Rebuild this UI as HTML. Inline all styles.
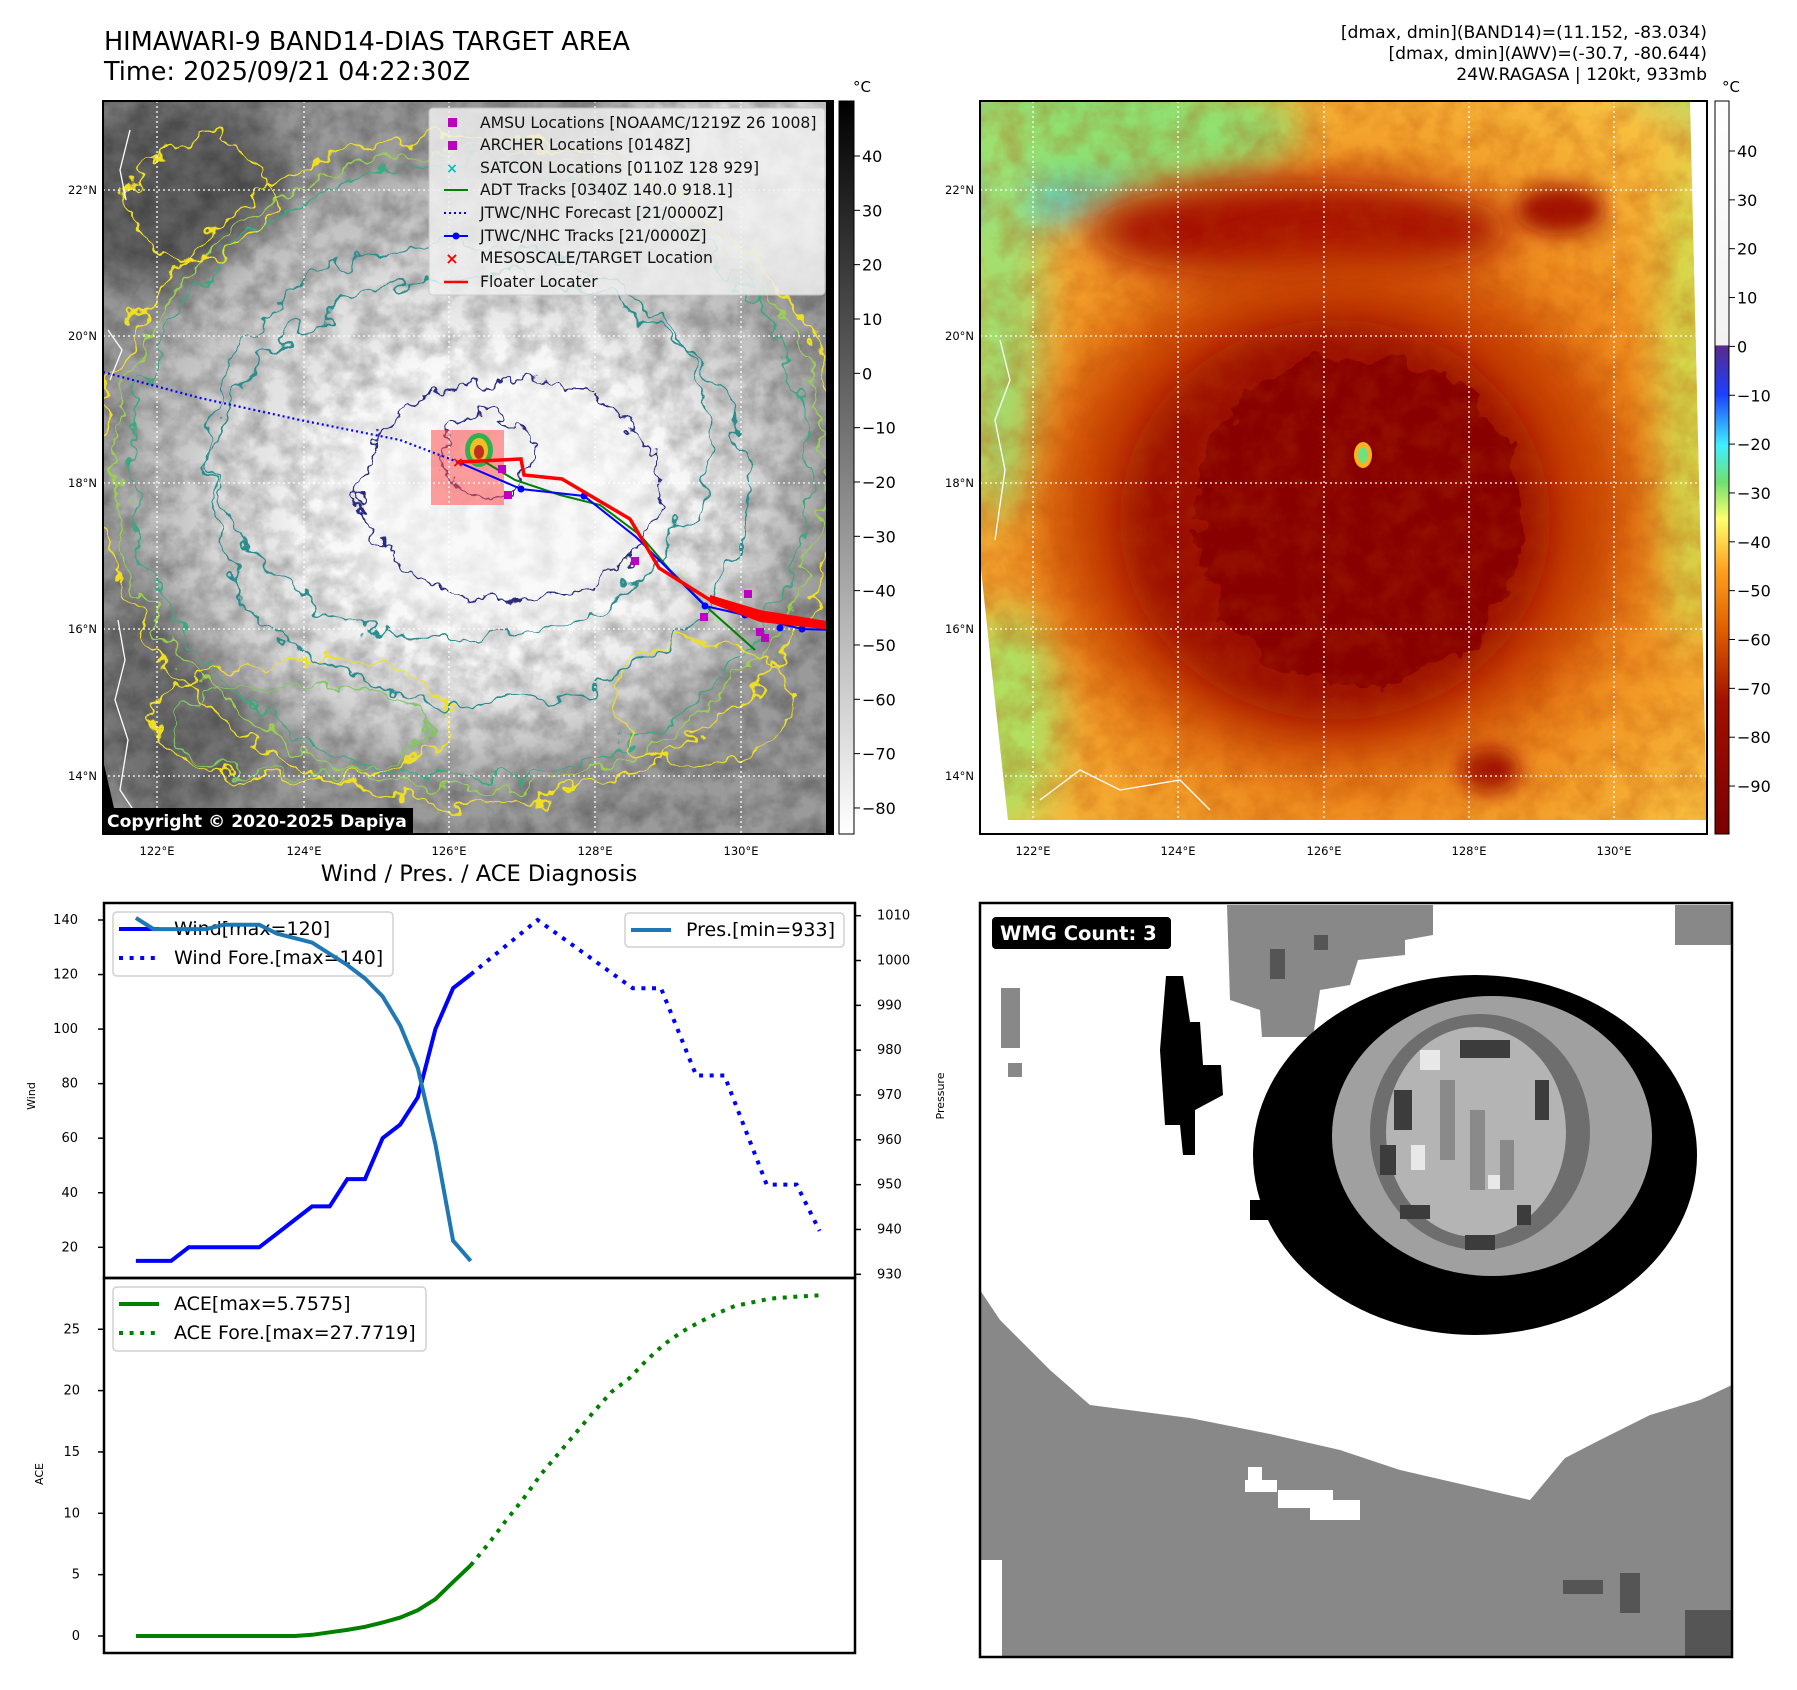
<!DOCTYPE html>
<html><head><meta charset="utf-8"><title>HIMAWARI-9 BAND14 DIAS</title>
<style>
html,body{margin:0;padding:0;background:#fff;}
svg{display:block;font-family:"DejaVu Sans","Liberation Sans",sans-serif;}
</style></head>
<body>
<svg id="root" width="1797" height="1690" xmlns="http://www.w3.org/2000/svg">
<defs>
  <filter id="wob" x="-40%" y="-40%" width="180%" height="180%">
    <feTurbulence type="fractalNoise" baseFrequency="0.035" numOctaves="3" seed="3" result="t"/>
    <feDisplacementMap in="SourceGraphic" in2="t" scale="40" xChannelSelector="R" yChannelSelector="G"/>
  </filter>
  <filter id="wob2" x="-20%" y="-20%" width="140%" height="140%">
    <feTurbulence type="fractalNoise" baseFrequency="0.05" numOctaves="3" seed="7" result="t"/>
    <feDisplacementMap in="SourceGraphic" in2="t" scale="30" xChannelSelector="R" yChannelSelector="G"/>
  </filter>
  <filter id="blur20" x="-50%" y="-50%" width="200%" height="200%"><feGaussianBlur stdDeviation="20"/></filter>
  <filter id="blur30" x="-50%" y="-50%" width="200%" height="200%"><feGaussianBlur stdDeviation="30"/></filter>
  <filter id="blur10" x="-50%" y="-50%" width="200%" height="200%"><feGaussianBlur stdDeviation="10"/></filter>
  <filter id="noiseG" x="0" y="0" width="100%" height="100%">
    <feTurbulence type="fractalNoise" baseFrequency="0.045" numOctaves="4" seed="11"/>
    <feColorMatrix type="matrix" values="0 0 0 0 0  0 0 0 0 0  0 0 0 0 0  1.4 0 0 0 -0.45"/>
  </filter>
  <filter id="noiseR" x="0" y="0" width="100%" height="100%">
    <feTurbulence type="fractalNoise" baseFrequency="0.04" numOctaves="4" seed="5"/>
    <feColorMatrix type="matrix" values="0 0 0 0 0.45  0 0 0 0 0.05  0 0 0 0 0  1.2 0 0 0 -0.4"/>
  </filter>
  <linearGradient id="cbGray" x1="0" y1="0" x2="0" y2="1">
    <stop offset="0" stop-color="#000"/><stop offset="1" stop-color="#fff"/>
  </linearGradient>
  <linearGradient id="cbColor" x1="0" y1="0" x2="0" y2="1">
    <stop offset="0" stop-color="#ffffff"/>
    <stop offset="0.333" stop-color="#f2f2f2"/>
    <stop offset="0.334" stop-color="#5a2a8a"/>
    <stop offset="0.40" stop-color="#1a40ff"/>
    <stop offset="0.47" stop-color="#40f0ff"/>
    <stop offset="0.52" stop-color="#70e070"/>
    <stop offset="0.57" stop-color="#ffff70"/>
    <stop offset="0.64" stop-color="#ffa020"/>
    <stop offset="0.72" stop-color="#e06000"/>
    <stop offset="0.82" stop-color="#a01000"/>
    <stop offset="1" stop-color="#7a0000"/>
  </linearGradient>
  <radialGradient id="rmapBase" cx="0.52" cy="0.55" r="0.75">
    <stop offset="0" stop-color="#e07010"/>
    <stop offset="0.55" stop-color="#f09020"/>
    <stop offset="0.85" stop-color="#f8c040"/>
    <stop offset="1" stop-color="#b0e070"/>
  </radialGradient>
  <clipPath id="lclip"><polygon points="103,101 826,101 826,834 120,834 103,760"/></clipPath>
  <clipPath id="rclip"><polygon points="980,101 1690,101 1707,820 1008,820 995,700 980,560"/></clipPath>
  <clipPath id="wclip"><rect x="980" y="903" width="752" height="754"/></clipPath>
</defs>

<!-- Titles -->
<text x="104" y="50" font-size="25.5">HIMAWARI-9 BAND14-DIAS TARGET AREA</text>
<text x="104" y="80" font-size="25.5">Time: 2025/09/21 04:22:30Z</text>
<text x="1707" y="38" font-size="17.2" text-anchor="end">[dmax, dmin](BAND14)=(11.152, -83.034)</text>
<text x="1707" y="59" font-size="17.2" text-anchor="end">[dmax, dmin](AWV)=(-30.7, -80.644)</text>
<text x="1707" y="80" font-size="17.2" text-anchor="end">24W.RAGASA | 120kt, 933mb</text>

<!-- LEFT MAP -->
<g>
  <rect x="103" y="101" width="730" height="733" fill="#000"/>
  <g clip-path="url(#lclip)">
    <rect x="103" y="101" width="730" height="733" fill="#9a9a9a"/>
    <ellipse cx="170" cy="190" rx="120" ry="100" fill="#606060" filter="url(#blur20)"/>
    <ellipse cx="180" cy="700" rx="90" ry="130" fill="#707070" filter="url(#blur20)"/>
    <ellipse cx="740" cy="170" rx="140" ry="100" fill="#dcdcdc" filter="url(#blur20)"/>
    <ellipse cx="470" cy="470" rx="340" ry="300" fill="#c4c4c4" filter="url(#blur20)"/>
    <ellipse cx="480" cy="490" rx="280" ry="240" fill="#e2e2e2" filter="url(#blur20)"/>
    <ellipse cx="495" cy="505" rx="215" ry="180" fill="#f8f8f8" filter="url(#blur20)"/>
    <rect x="103" y="101" width="730" height="733" fill="#000" filter="url(#noiseG)" opacity="0.35"/>
    <ellipse cx="500" cy="500" rx="160" ry="130" fill="#fafafa" opacity="0.7" filter="url(#blur20)"/>
    <g fill="none" filter="url(#wob)">
      <ellipse cx="470" cy="470" rx="370" ry="335" stroke="#f0e020" stroke-width="2"/>
      <ellipse cx="470" cy="470" rx="355" ry="320" stroke="#9ad050" stroke-width="1.8"/>
      <ellipse cx="470" cy="470" rx="340" ry="308" stroke="#3aa880" stroke-width="1.8"/>
      <ellipse cx="200" cy="200" rx="70" ry="60" stroke="#f0e020" stroke-width="1.8"/>
      <ellipse cx="700" cy="700" rx="90" ry="60" stroke="#f0e020" stroke-width="1.8"/>
      <ellipse cx="300" cy="720" rx="150" ry="60" stroke="#f0e020" stroke-width="1.8"/>
      <ellipse cx="300" cy="730" rx="130" ry="45" stroke="#80c860" stroke-width="1.8"/>
      <ellipse cx="480" cy="490" rx="270" ry="215" stroke="#2a8c8c" stroke-width="2"/>
      <ellipse cx="460" cy="440" rx="250" ry="200" stroke="#2a8c8c" stroke-width="1.8"/>
    </g>
    <g fill="none" filter="url(#wob2)">
      <ellipse cx="510" cy="490" rx="150" ry="110" stroke="#2a2a80" stroke-width="1.8"/>
      <ellipse cx="485" cy="455" rx="45" ry="40" stroke="#2a2a80" stroke-width="1.8"/>
    </g>
    <rect x="431" y="430" width="73" height="75" fill="#ff5050" opacity="0.55"/>
    <ellipse cx="479" cy="450" rx="14" ry="17" fill="#30b050"/>
    <ellipse cx="479" cy="450" rx="9" ry="12" fill="#f0c020"/>
    <ellipse cx="479" cy="452" rx="5" ry="7" fill="#c03020"/>
    <g stroke="#fff" stroke-width="1.3" stroke-dasharray="2 3">
      <line x1="157" y1="101" x2="157" y2="834"/><line x1="304" y1="101" x2="304" y2="834"/>
      <line x1="449" y1="101" x2="449" y2="834"/><line x1="595" y1="101" x2="595" y2="834"/>
      <line x1="741" y1="101" x2="741" y2="834"/>
      <line x1="103" y1="190" x2="833" y2="190"/><line x1="103" y1="336" x2="833" y2="336"/>
      <line x1="103" y1="483" x2="833" y2="483"/><line x1="103" y1="629" x2="833" y2="629"/>
      <line x1="103" y1="776" x2="833" y2="776"/>
    </g>
    <path d="M118,620 L125,660 L115,700 L128,740 L120,790 L140,820 M130,130 L120,170 L126,200 M108,330 L122,350 L110,380" stroke="#fff" stroke-width="1.3" fill="none"/>
    <polyline points="103,372 200,398 300,420 400,440 458,462" fill="none" stroke="#0000ff" stroke-width="2.2" stroke-dasharray="2 3"/>
    <polyline points="485,462 515,480 560,495 600,505 640,535 670,570 710,610 755,650" fill="none" stroke="#008000" stroke-width="2"/>
    <polyline points="458,462 521,489 584,496 636,537 705,606 745,615 802,629 833,630" fill="none" stroke="#0000ff" stroke-width="2"/>
    <g fill="#0000ff"><circle cx="521" cy="489" r="3.5"/><circle cx="584" cy="496" r="3.5"/><circle cx="705" cy="606" r="3.5"/><circle cx="745" cy="615" r="3.5"/><circle cx="780" cy="628" r="3.5"/><circle cx="802" cy="629" r="3.5"/></g>
    <polyline points="458,462 521,459 524,475 562,479 630,519 659,568 710,600 760,615 833,626" fill="none" stroke="#ff0000" stroke-width="3.5"/>
    <polygon points="710,595 760,610 833,622 833,630 760,622 710,603" fill="#ff0000"/>
    <g fill="#c000c0">
      <rect x="498" y="465" width="8" height="8"/><rect x="504" y="491" width="8" height="8"/>
      <rect x="631" y="557" width="8" height="8"/><rect x="700" y="613" width="8" height="8"/>
      <rect x="744" y="590" width="8" height="8"/><rect x="756" y="628" width="8" height="8"/>
      <rect x="761" y="634" width="8" height="8"/>
    </g>
    <text x="458" y="467" font-size="14" fill="#ff0000" text-anchor="middle" font-weight="bold">×</text>
  </g>
  <g>
    <rect x="429" y="108" width="396" height="187" rx="4" fill="#f2f2f2" opacity="0.82" stroke="#ccc"/>
    <g font-size="15.6" fill="#111">
      <rect x="448" y="118" width="9" height="9" fill="#c000c0"/><text x="480" y="128">AMSU Locations [NOAAMC/1219Z 26 1008]</text>
      <rect x="448" y="141" width="9" height="9" fill="#c000c0"/><text x="480" y="150">ARCHER Locations [0148Z]</text>
      <text x="452" y="173" fill="#00c0c0" text-anchor="middle" font-size="14" font-weight="bold">×</text><text x="480" y="173">SATCON Locations [0110Z 128 929]</text>
      <line x1="444" y1="190" x2="468" y2="190" stroke="#008000" stroke-width="2"/><text x="480" y="195">ADT Tracks [0340Z 140.0 918.1]</text>
      <line x1="444" y1="213" x2="468" y2="213" stroke="#0000ff" stroke-width="2" stroke-dasharray="2 3"/><text x="480" y="218">JTWC/NHC Forecast [21/0000Z]</text>
      <line x1="444" y1="236" x2="468" y2="236" stroke="#0000ff" stroke-width="2"/><circle cx="456" cy="236" r="3.5" fill="#0000ff"/><text x="480" y="241">JTWC/NHC Tracks [21/0000Z]</text>
      <text x="452" y="264" fill="#ff0000" text-anchor="middle" font-size="16" font-weight="bold">×</text><text x="480" y="263">MESOSCALE/TARGET Location</text>
      <line x1="444" y1="282" x2="468" y2="282" stroke="#ff0000" stroke-width="2.5"/><text x="480" y="287">Floater Locater</text>
    </g>
  </g>
  <rect x="103" y="808" width="310" height="26" fill="#000"/>
  <text x="107" y="827" font-size="17.2" font-weight="bold" fill="#fff">Copyright © 2020-2025 Dapiya</text>
  <rect x="103" y="101" width="730" height="733" fill="none" stroke="#000" stroke-width="2"/>
</g>
<g font-size="11.5" text-anchor="end">
  <text x="97" y="194">22°N</text><text x="97" y="340">20°N</text><text x="97" y="487">18°N</text><text x="97" y="633">16°N</text><text x="97" y="780">14°N</text>
</g>
<g font-size="11.5" text-anchor="middle">
  <text x="157" y="855">122°E</text><text x="304" y="855">124°E</text><text x="449" y="855">126°E</text><text x="595" y="855">128°E</text><text x="741" y="855">130°E</text>
</g>
<g>
  <rect x="839" y="101" width="15" height="733" fill="url(#cbGray)" stroke="#000" stroke-width="1"/>
  <text x="853" y="92" font-size="15">°C</text>
  <g id="lcbTicks" font-size="16"></g>
</g>

<!-- RIGHT MAP -->
<g>
  <g clip-path="url(#rclip)">
    <rect x="980" y="101" width="730" height="733" fill="url(#rmapBase)"/>
    <ellipse cx="990" cy="110" rx="170" ry="120" fill="#40c8f0" filter="url(#blur20)"/>
    <ellipse cx="1100" cy="130" rx="200" ry="60" fill="#90e070" filter="url(#blur20)"/>
    <ellipse cx="1000" cy="300" rx="40" ry="220" fill="#a0e070" filter="url(#blur20)"/>
    <ellipse cx="1010" cy="720" rx="50" ry="110" fill="#b0e060" filter="url(#blur20)"/>
    <ellipse cx="1690" cy="400" rx="30" ry="250" fill="#d0e050" filter="url(#blur20)"/>
    <ellipse cx="1300" cy="230" rx="210" ry="50" fill="#a51000" filter="url(#blur20)"/>
    <ellipse cx="1340" cy="510" rx="290" ry="255" fill="#c84000" filter="url(#blur30)"/>
    <ellipse cx="1335" cy="520" rx="215" ry="200" fill="#9a0e00" filter="url(#blur20)"/>
    <g filter="url(#wob)">
      <ellipse cx="1360" cy="520" rx="165" ry="165" fill="#880000"/>
    </g>
    <ellipse cx="1490" cy="770" rx="30" ry="22" fill="#a01000" filter="url(#blur10)"/>
    <ellipse cx="1560" cy="210" rx="45" ry="25" fill="#a01000" filter="url(#blur10)"/>
    <rect x="980" y="101" width="730" height="733" fill="#000" filter="url(#noiseR)" opacity="0.45"/>
    <ellipse cx="1363" cy="455" rx="9" ry="13" fill="#ffb020"/>
    <ellipse cx="1363" cy="455" rx="5" ry="8" fill="#70e080"/>
    <path d="M1000,340 L1010,380 L995,420 L1005,470 L995,540 M1040,800 L1080,770 L1120,790 L1180,780 L1210,810" stroke="#fff" stroke-width="1.3" fill="none"/>
    <g stroke="#fff" stroke-width="1.3" stroke-dasharray="2 3">
      <line x1="1033" y1="101" x2="1033" y2="834"/><line x1="1178" y1="101" x2="1178" y2="834"/>
      <line x1="1324" y1="101" x2="1324" y2="834"/><line x1="1469" y1="101" x2="1469" y2="834"/>
      <line x1="1614" y1="101" x2="1614" y2="834"/>
      <line x1="980" y1="190" x2="1710" y2="190"/><line x1="980" y1="336" x2="1710" y2="336"/>
      <line x1="980" y1="483" x2="1710" y2="483"/><line x1="980" y1="629" x2="1710" y2="629"/>
      <line x1="980" y1="776" x2="1710" y2="776"/>
    </g>
  </g>
  <rect x="980" y="101" width="727" height="733" fill="none" stroke="#000" stroke-width="2"/>
</g>
<g font-size="11.5" text-anchor="end">
  <text x="974" y="194">22°N</text><text x="974" y="340">20°N</text><text x="974" y="487">18°N</text><text x="974" y="633">16°N</text><text x="974" y="780">14°N</text>
</g>
<g font-size="11.5" text-anchor="middle">
  <text x="1033" y="855">122°E</text><text x="1178" y="855">124°E</text><text x="1324" y="855">126°E</text><text x="1469" y="855">128°E</text><text x="1614" y="855">130°E</text>
</g>
<g>
  <rect x="1715" y="101" width="14" height="733" fill="url(#cbColor)" stroke="#000" stroke-width="1"/>
  <text x="1722" y="92" font-size="15">°C</text>
  <g id="rcbTicks" font-size="16"></g>
</g>

<!-- DIAGNOSIS CHART -->
<text x="479" y="881" font-size="22.5" text-anchor="middle">Wind / Pres. / ACE Diagnosis</text>
<g id="chart"></g>

<!-- WMG PANEL -->
<g clip-path="url(#wclip)">
  <rect x="980" y="903" width="752" height="754" fill="#fff"/>
  <path d="M980,1290 L1000,1320 L1020,1340 L1050,1370 L1090,1405 L1190,1418 L1270,1434 L1340,1450 L1400,1470 L1465,1485 L1530,1500 L1565,1458 L1600,1440 L1650,1415 L1700,1400 L1732,1385 L1732,1657 L980,1657 Z" fill="#888"/>
  <rect x="1245" y="1480" width="32" height="12" fill="#fff"/><rect x="1278" y="1490" width="55" height="18" fill="#fff"/>
  <rect x="1310" y="1500" width="50" height="20" fill="#fff"/><rect x="1248" y="1467" width="14" height="14" fill="#fff"/>
  <rect x="980" y="1560" width="22" height="97" fill="#fff"/>
  <rect x="1563" y="1580" width="40" height="14" fill="#555"/><rect x="1685" y="1610" width="47" height="47" fill="#555"/>
  <rect x="1620" y="1573" width="20" height="40" fill="#555"/>
  <path d="M1227,905 L1433,905 L1433,935 L1405,940 L1405,955 L1358,960 L1350,985 L1320,990 L1313,1037 L1262,1037 L1260,1010 L1230,1000 Z" fill="#888"/>
  <rect x="1270" y="949" width="15" height="30" fill="#555"/><rect x="1314" y="935" width="14" height="15" fill="#555"/>
  <rect x="1675" y="905" width="57" height="40" fill="#888"/>
  <rect x="1001" y="988" width="19" height="60" fill="#888"/><rect x="1008" y="1063" width="14" height="14" fill="#888"/>
  <path d="M1166,976 L1183,976 L1190,1022 L1200,1022 L1203,1065 L1221,1065 L1223,1095 L1195,1110 L1195,1155 L1183,1155 L1180,1125 L1165,1125 L1160,1050 Z" fill="#000"/>
  <ellipse cx="1475" cy="1155" rx="222" ry="180" fill="#000"/>
  <rect x="1250" y="1200" width="60" height="20" fill="#000"/>
  <ellipse cx="1492" cy="1136" rx="160" ry="140" fill="#a0a0a0"/>
  <ellipse cx="1480" cy="1132" rx="110" ry="118" fill="#6e6e6e"/>
  <ellipse cx="1476" cy="1132" rx="90" ry="105" fill="#b4b4b4"/>
  <g fill="#3c3c3c"><rect x="1394" y="1090" width="18" height="40"/><rect x="1380" y="1145" width="16" height="30"/><rect x="1460" y="1040" width="50" height="18"/><rect x="1535" y="1080" width="14" height="40"/><rect x="1400" y="1205" width="30" height="14"/><rect x="1465" y="1235" width="30" height="15"/><rect x="1517" y="1205" width="14" height="20"/></g>
  <g fill="#e8e8e8"><rect x="1411" y="1145" width="14" height="25"/><rect x="1488" y="1175" width="15" height="14"/><rect x="1420" y="1050" width="20" height="20"/></g>
  <g fill="#8a8a8a"><rect x="1440" y="1080" width="15" height="80"/><rect x="1470" y="1110" width="15" height="80"/><rect x="1500" y="1140" width="14" height="50"/></g>
  <rect x="992" y="917" width="179" height="32" rx="4" fill="#000"/>
  <text x="1000" y="940" font-size="19.5" font-weight="bold" fill="#fff">WMG Count: 3</text>
</g>
<rect x="980" y="903" width="752" height="754" fill="none" stroke="#000" stroke-width="2.5"/>

<script>
// ---- chart data ----
const windObs = [15,15,15,20,20,20,20,20,25,30,35,35,45,45,60,65,75,100,115,120];
const windFcIdx = [19,22.8,28.2,29.8,31.8,33.4,35.8,37.5,38.8];
const windFcVal = [120,140,115,115,83,83,43,43,26];
const presObs = [1009.5,1007,1007,1007,1007,1008,1008,1008,1006,1005,1004,1001.5,999,996,992,985.5,976,959,937.5,933];
const aceObs = [0,0,0,0,0,0,0,0,0,0,0.1,0.3,0.5,0.75,1.1,1.5,2.1,3.0,4.4,5.76];
const aceFcIdx = [19,20,21,22,23,24,25,26,27,28,29,30,31,32,33,34,35,36,37,38,38.8];
const aceFcVal = [5.76,7.5,9.4,11.2,13.2,14.9,16.6,18.3,19.9,21.0,22.5,23.8,24.8,25.6,26.3,26.9,27.2,27.5,27.6,27.7,27.77];
const windTicks = [20,40,60,80,100,120,140];
const presTicks = [930,940,950,960,970,980,990,1000,1010];
const aceTicks = [0,5,10,15,20,25];
const lcbTicks = [40,30,20,10,0,-10,-20,-30,-40,-50,-60,-70,-80];
const rcbTicks = [40,30,20,10,0,-10,-20,-30,-40,-50,-60,-70,-80,-90];

const NS = "http://www.w3.org/2000/svg";
const xI = i => 135.9 + 17.62 * i;
const yW = v => 1247.3 - (v - 20) * 2.7275;
const yP = p => 1274.3 - (p - 930) * 4.4825;
const yA = a => 1636 - a * 12.27;
const yL = v => 156 + (40 - v) * 5.433;
const yR = v => 151 + (40 - v) * 4.885;

function mk(tag, attrs, parent) {
  const e = document.createElementNS(NS, tag);
  for (const k in attrs) e.setAttribute(k, attrs[k]);
  parent.appendChild(e);
  return e;
}
const chart = document.getElementById('chart');

let f1 = mk('rect', {x:104, y:903, width:751, height:375, fill:'none', stroke:'#000', 'stroke-width':2.5}, chart);


let f2 = mk('rect', {x:104, y:1278, width:751, height:375, fill:'none', stroke:'#000', 'stroke-width':2.5}, chart);



windTicks.forEach(v => {
  mk('line', {x1:98, x2:104, y1:yW(v), y2:yW(v), stroke:'#000', 'stroke-width':1.5}, chart);
  const t = mk('text', {x:78, y:yW(v)+4, 'font-size':13, 'text-anchor':'end'}, chart);
  t.textContent = v;
  
  
});
presTicks.forEach(v => {
  mk('line', {x1:855, x2:861, y1:yP(v), y2:yP(v), stroke:'#000', 'stroke-width':1.5}, chart);
  const t = mk('text', {x:877, y:yP(v)+4, 'font-size':13}, chart);
  t.textContent = v;
  
  
});
aceTicks.forEach(v => {
  mk('line', {x1:98, x2:104, y1:yA(v), y2:yA(v), stroke:'#000', 'stroke-width':1.5}, chart);
  const t = mk('text', {x:80, y:yA(v)+4, 'font-size':13, 'text-anchor':'end'}, chart);
  t.textContent = v;
  
  
});
let ax1 = mk('text', {x:0, y:0, 'font-size':11, 'text-anchor':'middle', transform:'translate(35,1096) rotate(-90)'}, chart);
ax1.textContent = 'Wind';


let ax2 = mk('text', {x:0, y:0, 'font-size':11, 'text-anchor':'middle', transform:'translate(944,1096) rotate(-90)'}, chart);
ax2.textContent = 'Pressure';


let ax3 = mk('text', {x:0, y:0, 'font-size':11, 'text-anchor':'middle', transform:'translate(43,1474) rotate(-90)'}, chart);
ax3.textContent = 'ACE';



function pts(xs, ys) { return xs.map((x, i) => x.toFixed(1) + ',' + ys[i].toFixed(1)).join(' '); }
function legendBox(x, y, w, h, name) {
  const r = mk('rect', {x:x, y:y, width:w, height:h, rx:4, fill:'#fff', 'fill-opacity':0.8, stroke:'#d0d0d0', 'stroke-width':1.5}, chart);
  
  
}
function legendItem(y, x1, label, color, dashed, name) {
  const l = mk('line', {x1:x1, x2:x1+40, y1:y, y2:y, stroke:color, 'stroke-width':4}, chart);
  if (dashed) l.setAttribute('stroke-dasharray', '4 6.6');
  const t = mk('text', {x:x1+55, y:y+6, 'font-size':19}, chart);
  t.textContent = label;
  
  
}
legendBox(113, 912, 280, 64, 'wind-legend');
legendItem(929, 119, 'Wind[max=120]', '#0000ff', false, 'wind-legend-entry');
legendItem(958, 119, 'Wind Fore.[max=140]', '#0000ff', true, 'wind-forecast-legend-entry');

const idxObs = windObs.map((_, i) => i);
let wl = mk('polyline', {points: pts(idxObs.map(xI), windObs.map(yW)), fill:'none', stroke:'#0000ff', 'stroke-width':4}, chart);


let wf = mk('polyline', {points: pts(windFcIdx.map(xI), windFcVal.map(yW)), fill:'none', stroke:'#0000ff', 'stroke-width':4, 'stroke-dasharray':'4 6.6'}, chart);


let pl = mk('polyline', {points: pts(presObs.map((_, i) => xI(i)), presObs.map(yP)), fill:'none', stroke:'#1f77b4', 'stroke-width':4}, chart);


let al = mk('polyline', {points: pts(aceObs.map((_, i) => xI(i)), aceObs.map(yA)), fill:'none', stroke:'#008000', 'stroke-width':4}, chart);


let af = mk('polyline', {points: pts(aceFcIdx.map(xI), aceFcVal.map(yA)), fill:'none', stroke:'#008000', 'stroke-width':4, 'stroke-dasharray':'4 6.6'}, chart);



legendBox(625, 913, 219, 34, 'pressure-legend');
legendItem(930, 631, 'Pres.[min=933]', '#1f77b4', false, 'pressure-legend-entry');
legendBox(113, 1287, 313, 64, 'ace-legend');
legendItem(1304, 119, 'ACE[max=5.7575]', '#008000', false, 'ace-legend-entry');
legendItem(1333, 119, 'ACE Fore.[max=27.7719]', '#008000', true, 'ace-forecast-legend-entry');

const lg = document.getElementById('lcbTicks');
lcbTicks.forEach(v => {
  mk('line', {x1:854, x2:860, y1:yL(v), y2:yL(v), stroke:'#000'}, lg);
  const t = mk('text', {x:862, y:yL(v)+6}, lg);
  t.textContent = v < 0 ? '\u2212' + Math.abs(v) : v;
  
  
});
const rg = document.getElementById('rcbTicks');
rcbTicks.forEach(v => {
  mk('line', {x1:1729, x2:1735, y1:yR(v), y2:yR(v), stroke:'#000'}, rg);
  const t = mk('text', {x:1737, y:yR(v)+6}, rg);
  t.textContent = v < 0 ? '\u2212' + Math.abs(v) : v;
  
  
});
</script>
</svg>
</body></html>
